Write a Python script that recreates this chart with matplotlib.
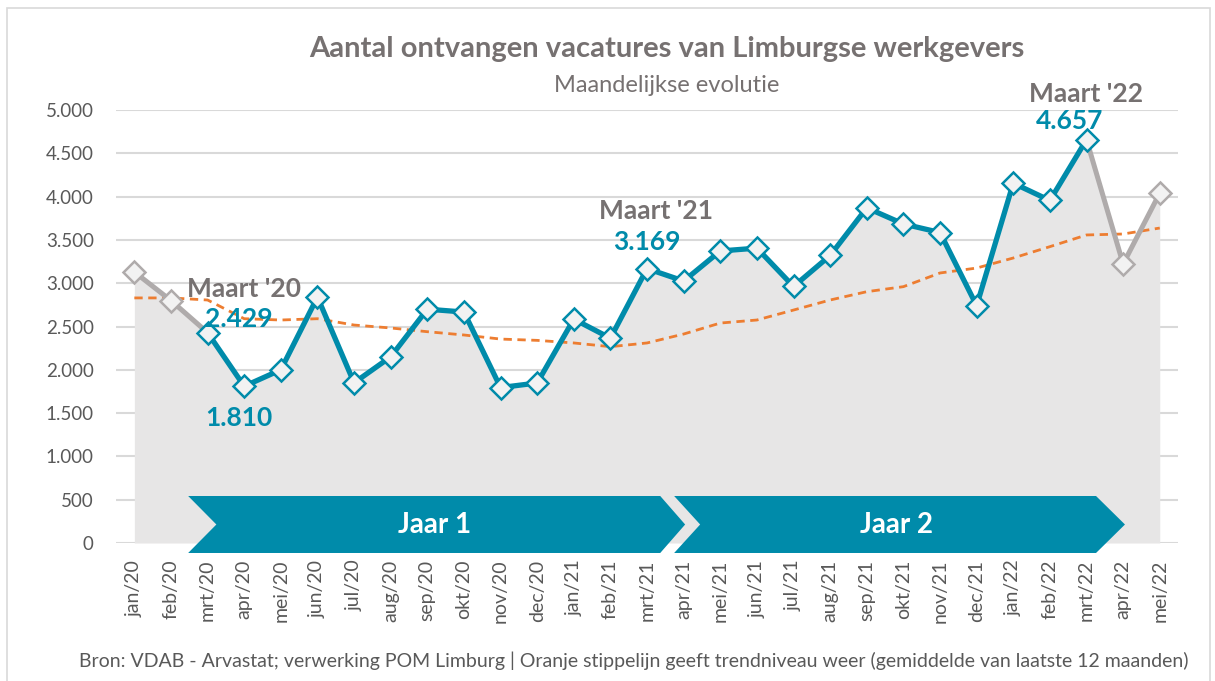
import matplotlib.pyplot as plt
from matplotlib.patches import Polygon, Rectangle
from matplotlib.ticker import FuncFormatter

# Data
months = ['jan/20', 'feb/20', 'mrt/20', 'apr/20', 'mei/20', 'jun/20', 'jul/20',
          'aug/20', 'sep/20', 'okt/20', 'nov/20', 'dec/20', 'jan/21', 'feb/21',
          'mrt/21', 'apr/21', 'mei/21', 'jun/21', 'jul/21', 'aug/21', 'sep/21',
          'okt/21', 'nov/21', 'dec/21', 'jan/22', 'feb/22', 'mrt/22', 'apr/22',
          'mei/22']
vacatures = [3130, 2800, 2429, 1810, 2000, 2840, 1850, 2150, 2700, 2667, 1795,
             1848, 2585, 2365, 3169, 3025, 3372, 3405, 2962, 3320, 3870, 3684,
             3585, 2740, 4155, 3955, 4657, 3222, 4040]
trend = [2830, 2830, 2806, 2590, 2575, 2590, 2517, 2483, 2440, 2402, 2355, 2340,
         2310, 2267, 2310, 2413, 2540, 2575, 2690, 2806, 2902, 2960, 3118, 3175,
         3291, 3422, 3557, 3568, 3637]
# index range of the two highlighted years (mrt/20 .. mrt/22)
start_idx = 2
end_idx = 26

teal = '#008BAA'
grey_line = '#AFABAB'
text_grey = '#767171'
font = ['Lato', 'DejaVu Sans']
plt.rcParams['font.family'] = font


def nl(v):
    return f'{int(v):,}'.replace(',', '.')


fig = plt.figure(figsize=(12.15, 6.81), dpi=100)
ax = fig.add_axes([0.0955, 0.2026, 0.8741, 0.6359])

x = list(range(len(months)))

ax.fill_between(x, vacatures, 0, color='#E7E6E6', zorder=1, linewidth=0)
ax.plot(x, trend, color='#ED7D31', linestyle=(0, (3, 2)), linewidth=2, zorder=3)

# grey parts before and after the two years
ax.plot(x[:start_idx + 1], vacatures[:start_idx + 1], color=grey_line,
        linewidth=3.6, zorder=4)
ax.plot(x[end_idx:], vacatures[end_idx:], color=grey_line, linewidth=3.6, zorder=4)
ax.plot(x[start_idx:end_idx + 1], vacatures[start_idx:end_idx + 1], color=teal,
        linewidth=3.8, zorder=5)

# markers
for i in x:
    edge = teal if start_idx <= i <= end_idx else grey_line
    ax.plot(i, vacatures[i], marker='D', markersize=11, markerfacecolor='#F2F2F2',
            markeredgecolor=edge, markeredgewidth=1.8, zorder=6)

ax.set_xlim(-0.5, len(months) - 0.5)
ax.set_ylim(0, 5000)
ax.set_yticks(range(0, 5001, 500))
ax.yaxis.set_major_formatter(FuncFormatter(lambda v, p: nl(v)))
ax.set_xticks(x)
ax.set_xticklabels(months, rotation=90)
ax.tick_params(axis='both', length=0, colors='#595959')
ax.tick_params(axis='x', pad=12, labelsize=14)
ax.tick_params(axis='y', pad=16, labelsize=13.5)
ax.grid(axis='y', color='#D9D9D9', linewidth=1.5, zorder=0)
ax.set_axisbelow(True)
for s in ax.spines.values():
    s.set_visible(False)

# year arrows
y_top, y_bot, y_mid = 543, -115, 214
arrow1 = [(1.47, y_top), (14.36, y_top), (15.04, y_mid), (14.36, y_bot),
          (1.47, y_bot), (2.24, y_mid)]
arrow2 = [(14.74, y_top), (26.26, y_top), (27.05, y_mid), (26.26, y_bot),
          (14.74, y_bot), (15.45, y_mid)]
for pts in (arrow1, arrow2):
    ax.add_patch(Polygon(pts, closed=True, facecolor=teal, edgecolor='none',
                         zorder=7, clip_on=False))
ax.text(8.2, y_mid - 10, 'Jaar 1', color='white', fontsize=20, fontweight='bold',
        ha='center', va='center', zorder=8)
ax.text(20.8, y_mid - 10, 'Jaar 2', color='white', fontsize=20, fontweight='bold',
        ha='center', va='center', zorder=8)

# annotations
ax.text(3.0, 2930, "Maart '20", color=text_grey, fontsize=19, fontweight='bold',
        ha='center', va='center', zorder=8)
ax.text(2.85, 2590, nl(vacatures[2]), color=teal, fontsize=19,
        fontweight='bold', ha='center', va='center', zorder=8)
ax.text(2.85, 1440, nl(vacatures[3]), color=teal, fontsize=19,
        fontweight='bold', ha='center', va='center', zorder=8)
ax.text(14.25, 3830, "Maart '21", color=text_grey, fontsize=19, fontweight='bold',
        ha='center', va='center', zorder=8)
ax.text(14.0, 3480, nl(vacatures[14]), color=teal, fontsize=19,
        fontweight='bold', ha='center', va='center', zorder=8)
ax.text(26.0, 5185, "Maart '22", color=text_grey, fontsize=19, fontweight='bold',
        ha='center', va='center', zorder=8, clip_on=False)
ax.text(25.55, 4875, nl(vacatures[26]), color=teal, fontsize=19,
        fontweight='bold', ha='center', va='center', zorder=8, clip_on=False)

# titles and footer
fig.text(0.549, 0.928, 'Aantal ontvangen vacatures van Limburgse werkgevers',
         color=text_grey, fontsize=21, fontweight='bold', ha='center', va='center')
fig.text(0.549, 0.874, 'Maandelijkse evolutie', color=text_grey, fontsize=17,
         ha='center', va='center')
fig.text(0.522, 0.03, 'Bron: VDAB - Arvastat; verwerking POM Limburg | Oranje '
         'stippelijn geeft trendniveau weer (gemiddelde van laatste 12 maanden)',
         color='#595959', fontsize=14, ha='center', va='center')

# chart frame
fig.patches.append(Rectangle((0.006, -0.01), 0.99, 0.998, transform=fig.transFigure,
                             facecolor='none', edgecolor='#D9D9D9', linewidth=1.2))

fig.savefig('out.png', dpi=100)
